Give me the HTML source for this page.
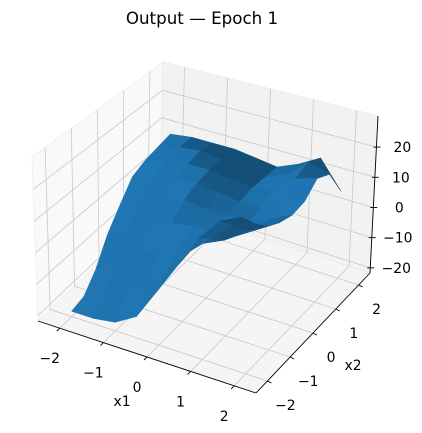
<!DOCTYPE html>
<html><head><meta charset="utf-8"><style>
html,body{margin:0;padding:0;background:#fff;}
svg{display:block;font-family:"DejaVu Sans","Liberation Sans",sans-serif;}
</style></head><body>
<svg id="chart" width="422" height="433" viewBox="0 0 422 433">
<text x="202" y="24" font-size="16.7" text-anchor="middle" fill="#000">Output — Epoch 1</text>
<g id="panes"></g>
<g id="grid"></g>
<g id="axes"></g>
<g id="surface"></g>
<g id="labels"></g>
</svg>
<script>
const xGrid = [-2, -1.5, -1, -0.5, 0, 0.5, 1, 1.5, 2];
const yGrid = [-2, -1.5, -1, -0.5, 0, 0.5, 1, 1.5, 2];
// zValues[i][j] : x = xGrid[i], y = yGrid[j]
const zValues = [
  [-20,-19,-14,-6, 0, 6, 8, 9,10],
  [-20,-16, -9,-2, 4, 8,10,11,11],
  [-19,-13, -5, 1, 6, 9,11,12,11],
  [-15, -9, -1, 4, 8,10,11,11,11],
  [ -5, -1,  3, 5, 7, 9,10,10,10],
  [  5,  6,  5, 5, 7, 8, 9, 9, 9],
  [ 15, 12,  8, 6, 7, 8,10,12,12],
  [ 22, 18, 13,10,10,12,16,18,16],
  [ 25, 20, 16,14,13,14,18,16, 7]
];
const xTicks = [-2, -1, 0, 1, 2];
const yTicks = [-2, -1, 0, 1, 2];
const zTicks = [-20, -10, 0, 10, 20];

const XMIN=-2.5,XMAX=2.5,YMIN=-2.5,YMAX=2.5,ZMIN=-21.7,ZMAX=30.3;
const B={p00:[38,321],p10:[256,393],p11:[370,273],p01:[160,205]};
const T={p00:[32,157],p10:[250,215],p11:[378,116],p01:[163,62]};
function bil(C,u,v){
  return [C.p00[0]*(1-u)*(1-v)+C.p10[0]*u*(1-v)+C.p11[0]*u*v+C.p01[0]*(1-u)*v,
          C.p00[1]*(1-u)*(1-v)+C.p10[1]*u*(1-v)+C.p11[1]*u*v+C.p01[1]*(1-u)*v];
}
function proj(x,y,z){
  const u=(x-XMIN)/(XMAX-XMIN), v=(y-YMIN)/(YMAX-YMIN), w=(z-ZMIN)/(ZMAX-ZMIN);
  const b=bil(B,u,v), t=bil(T,u,v);
  return [b[0]+(t[0]-b[0])*w, b[1]+(t[1]-b[1])*w];
}
function depth(x,y,z){
  const u=(x-XMIN)/(XMAX-XMIN)-0.5, v=(y-YMIN)/(YMAX-YMIN)-0.5, w=(z-ZMIN)/(ZMAX-ZMIN)-0.5;
  return 0.433*u-0.75*v+0.5*w*0.75;
}
const NS='http://www.w3.org/2000/svg';
function mk(tag,attrs,parent){const e=document.createElementNS(NS,tag);for(const k in attrs)e.setAttribute(k,attrs[k]);parent.appendChild(e);return e;}
function pts(a){return a.map(p=>p[0].toFixed(2)+','+p[1].toFixed(2)).join(' ');}

const panes=document.getElementById('panes');
let e;
e=mk('polygon',{points:pts([proj(XMIN,YMIN,ZMIN),proj(XMAX,YMIN,ZMIN),proj(XMAX,YMAX,ZMIN),proj(XMIN,YMAX,ZMIN)]),fill:'#f5f5f5',stroke:'#f0f0f0'},panes);


e=mk('polygon',{points:pts([proj(XMIN,YMIN,ZMIN),proj(XMIN,YMAX,ZMIN),proj(XMIN,YMAX,ZMAX),proj(XMIN,YMIN,ZMAX)]),fill:'#f9f9f9',stroke:'#f0f0f0'},panes);


e=mk('polygon',{points:pts([proj(XMIN,YMAX,ZMIN),proj(XMAX,YMAX,ZMIN),proj(XMAX,YMAX,ZMAX),proj(XMIN,YMAX,ZMAX)]),fill:'#f2f2f2',stroke:'#ebebeb'},panes);



const grid=document.getElementById('grid');
const gs={stroke:'#c8c8c8','stroke-width':0.8,fill:'none'};
function gl(a,name){const l=mk('polyline',Object.assign({points:pts(a)},gs),grid);

}
xTicks.forEach(x=>gl([proj(x,YMIN,ZMIN),proj(x,YMAX,ZMIN),proj(x,YMAX,ZMAX)],'x-gridline'));
yTicks.forEach(y=>gl([proj(XMAX,y,ZMIN),proj(XMIN,y,ZMIN),proj(XMIN,y,ZMAX)],'y-gridline'));
zTicks.forEach(z=>gl([proj(XMIN,YMIN,z),proj(XMIN,YMAX,z),proj(XMAX,YMAX,z)],'z-gridline'));

const axes=document.getElementById('axes');
function al(a,name){const l=mk('polyline',{points:pts(a),stroke:'#000','stroke-width':0.9,fill:'none'},axes);

}
al([proj(XMIN,YMIN,ZMIN),proj(XMAX,YMIN,ZMIN)],'x-axis-line');
al([proj(XMAX,YMIN,ZMIN),proj(XMAX,YMAX,ZMIN)],'y-axis-line');
al([proj(XMAX,YMAX,ZMIN),proj(XMAX,YMAX,ZMAX)],'z-axis-line');

const labels=document.getElementById('labels');
function tl(p,dx,dy,txt,name,anchor){
  const t=mk('text',{x:(p[0]+dx).toFixed(1),y:(p[1]+dy+5).toFixed(1),'font-size':13.9,'text-anchor':anchor||'middle',fill:'#000'},labels);
  t.textContent=txt;
  
  
}
function fmt(v){return v<0?'\u2212'+Math.abs(v):String(v);}
xTicks.forEach(x=>{const p=proj(x,YMIN,ZMIN);
  al([p,[p[0]-3,p[1]+3]],'x-tick');
  tl(p,-10,30,fmt(x),'x-tick-label');});
yTicks.forEach(y=>{const p=proj(XMAX,y,ZMIN);
  al([p,[p[0]+4,p[1]+2]],'y-tick');
  tl(p,18,24,fmt(y),'y-tick-label');});
zTicks.forEach(z=>{const p=proj(XMAX,YMAX,z);
  al([[p[0]-3,p[1]],[p[0]+4,p[1]]],'z-tick');
  tl(p,26,0,fmt(z),'z-tick-label');});
tl([122,406],0,-5,'x1','x-axis-title');
tl([353,370],0,-5,'x2','y-axis-title');

const surf=document.getElementById('surface');
const L=[-0.667,-0.667,0.333];
const quads=[];
for(let i=0;i<xGrid.length-1;i++)for(let j=0;j<yGrid.length-1;j++){
  const c=[[i,j],[i+1,j],[i+1,j+1],[i,j+1]].map(([a,b])=>[xGrid[a],yGrid[b],zValues[a][b]]);
  const d1=[c[2][0]-c[0][0],c[2][1]-c[0][1],(c[2][2]-c[0][2])*0.35];
  const d2=[c[3][0]-c[1][0],c[3][1]-c[1][1],(c[3][2]-c[1][2])*0.35];
  let n=[d1[1]*d2[2]-d1[2]*d2[1],d1[2]*d2[0]-d1[0]*d2[2],d1[0]*d2[1]-d1[1]*d2[0]];
  if(n[2]<0)n=n.map(v=>-v);
  const nl=Math.hypot(n[0],n[1],n[2]);
  const s=(n[0]*L[0]+n[1]*L[1]+n[2]*L[2])/nl;
  const f=Math.max(0.66,0.3+0.7*(s+1)/2);
  const col='rgb('+Math.round(31*f)+','+Math.round(119*f)+','+Math.round(180*f)+')';
  const dp=c.reduce((a,p)=>a+depth(p[0],p[1],p[2]),0)/4;
  quads.push({c,col,dp});
}
quads.sort((a,b)=>a.dp-b.dp);
quads.forEach(q=>{
  const p=mk('polygon',{points:pts(q.c.map(v=>proj(v[0],v[1],v[2]))),fill:q.col,stroke:q.col,'stroke-width':0.6,'stroke-linejoin':'round'},surf);
  
  
});
</script>
</body></html>
